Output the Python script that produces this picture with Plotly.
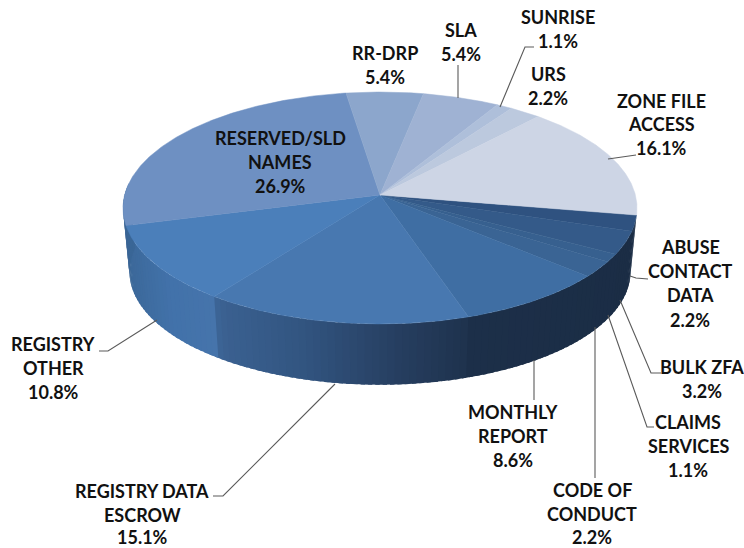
import numpy as np
import plotly.graph_objects as go

# ---- data (clockwise from the first slice) ----
categories = ["ABUSE CONTACT DATA", "BULK ZFA", "CLAIMS SERVICES", "CODE OF CONDUCT",
              "MONTHLY REPORT", "REGISTRY DATA ESCROW", "REGISTRY OTHER", "RESERVED/SLD NAMES",
              "RR-DRP", "SLA", "SUNRISE", "URS", "ZONE FILE ACCESS"]
values = [2.2, 3.2, 1.1, 2.2, 8.6, 15.1, 10.8, 26.9, 5.4, 5.4, 1.1, 2.2, 16.1]

# ---- styles ----
top_colors = ["#2f5280", "#345a89", "#37608f", "#3a6494", "#3f6ea3", "#4878b0", "#4b7fba",
              "#6e90c2", "#8ca6cc", "#9fb2d3", "#aebfda", "#bcc9de", "#cdd5e5"]
side_stops = {
    7: ([120, 135], ["#3a6595", "#3b6797"]),
    6: ([120, 170, 213], ["#3b6797", "#4272aa", "#4674ab"]),
    5: ([213, 225, 300, 400, 470], ["#3d6697", "#3a6090", "#325581", "#263e60", "#1e324d"]),
}
side_default = ([470, 640], ["#1c2f49", "#1b2d45"])

# per-line label placement: (centre x, [line y...], [text...])
labels = [
    (385, [53, 77], ["RR-DRP", "5.4%"]),
    (461, [30, 54], ["SLA", "5.4%"]),
    (558, [17, 41], ["SUNRISE", "1.1%"]),
    (548, [74, 98], ["URS", "2.2%"]),
    (661, [101, 124, 148], ["ZONE FILE", "ACCESS", "16.1%"]),
    (280, [138, 162, 186], ["RESERVED/SLD", "NAMES", "26.9%"]),
    (690, [247, 271, 295, 320], ["ABUSE", "CONTACT", "DATA", "2.2%"]),
    (702, [367, 391], ["BULK ZFA", "3.2%"]),
    (688, [422, 446, 470], ["CLAIMS", "SERVICES", "1.1%"]),
    (592, [490, 514, 537], ["CODE OF", "CONDUCT", "2.2%"]),
    (513, [412, 436, 460], ["MONTHLY", "REPORT", "8.6%"]),
    (53, [344, 368, 392], ["REGISTRY", "OTHER", "10.8%"]),
    (142, [491, 515, 537], ["REGISTRY DATA", "ESCROW", "15.1%"]),
]
leaders = [
    ([458, 458], [65, 98]),
    ([500, 525, 534], [107, 47, 47]),
    ([608, 636], [159, 155]),
    ([630, 636, 648], [276, 278, 279]),
    ([620, 651, 661], [300, 373, 373]),
    ([608, 647, 654], [315, 427, 427]),
    ([595, 595], [327, 478]),
    ([534, 534], [360, 400]),
    ([335, 223, 213], [384, 496, 496]),
    ([157, 108, 99], [320, 351, 351]),
]

# ---- projection of the tilted disc ----
CX, CY = 380.0, 195.0
A, B, K = 255.4, 114.5, 0.112
START_DEG = 9.9
DROP, SHRINK = 64.0, 0.975


def rim(theta):
    u, v = np.cos(theta), np.sin(theta)
    w = 1 - K * v
    return CX + A * u / w, CY + B * v / w


def floor(theta):
    x, y = rim(theta)
    return CX + SHRINK * (x - CX), CY + DROP + SHRINK * (y - CY)


def hex_rgb(h):
    return np.array([int(h[i:i + 2], 16) for i in (1, 3, 5)], float)


def side_color(idx, x):
    xs, cols = side_stops.get(idx, side_default)
    arr = np.array([hex_rgb(c) for c in cols])
    c = [np.interp(x, xs, arr[:, k]) for k in range(3)]
    return "rgb(%d,%d,%d)" % tuple(int(round(v)) for v in c)


edges = np.radians(START_DEG + 3.6 * np.concatenate([[0], np.cumsum(values)]) * 100 / sum(values))

fig = go.Figure()

# side wall, front half only; each strip runs under the next so no seams show
for i in range(len(values)):
    a0, a1 = max(edges[i], np.radians(-5)), min(edges[i + 1], np.radians(185))
    if a1 <= a0:
        continue
    n = max(2, int((a1 - a0) / np.radians(1.5)))
    ts = np.linspace(a0, a1, n + 1)
    step = ts[1] - ts[0]
    for t0, t1 in zip(ts[:-1], ts[1:]):
        t2 = t1 + step * 0.6
        x0, y0 = rim(t0); x1, y1 = rim(t2)
        x2, y2 = floor(t2); x3, y3 = floor(t0)
        mx, _ = rim((t0 + t1) / 2)
        col = side_color(i, mx)
        fig.add_trace(go.Scatter(x=[x0, x1, x2, x3, x0], y=[y0, y1, y2, y3, y0], mode="lines",
                                 fill="toself", fillcolor=col, line=dict(color=col, width=0),
                                 hoverinfo="skip", showlegend=False))

# top face
for i, name in enumerate(categories):
    ts = np.linspace(edges[i], edges[i + 1], max(3, int(values[i] * 8)))
    xs, ys = rim(ts)
    fig.add_trace(go.Scatter(x=np.r_[CX, xs, CX], y=np.r_[CY, ys, CY], mode="lines", fill="toself",
                             fillcolor=top_colors[i], line=dict(color=top_colors[i], width=0.5),
                             name=name, text=f"{name}: {values[i]}%", hoverinfo="text", showlegend=False))

# leader lines
for lx, ly in leaders:
    fig.add_trace(go.Scatter(x=lx, y=ly, mode="lines", line=dict(color="#5a5a5a", width=1.1),
                             hoverinfo="skip", showlegend=False))

for cx, ys, texts in labels:
    for y, t in zip(ys, texts):
        fig.add_annotation(x=cx, y=y, text=f"<b>{t}</b>", showarrow=False, xanchor="center",
                           yanchor="middle", borderpad=0, font=dict(family="Lato", size=18, color="#111111"))

fig.update_layout(width=744, height=548, margin=dict(l=0, r=0, t=0, b=0), autosize=False,
                  paper_bgcolor="white", plot_bgcolor="white", showlegend=False,
                  xaxis=dict(range=[0, 744], visible=False, fixedrange=True),
                  yaxis=dict(range=[548, 0], visible=False, fixedrange=True))
fig.write_html("out.html", config={"displayModeBar": False}, default_width="744px", default_height="548px",
               post_script="document.body.style.margin='0';document.documentElement.style.overflow='hidden';")
